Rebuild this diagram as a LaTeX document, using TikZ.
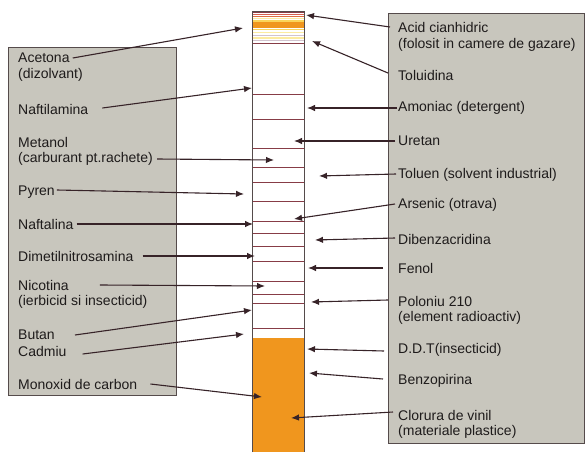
\documentclass[tikz,border=0pt]{standalone}
\usepackage{fontspec}
\setmainfont{Liberation Sans}
\usetikzlibrary{arrows.meta}
\definecolor{boxgray}{RGB}{200,198,189}
\definecolor{boxline}{RGB}{85,75,75}
\definecolor{arrowc}{RGB}{55,35,40}
\definecolor{stripe}{RGB}{135,60,70}
\definecolor{tobacco}{RGB}{240,150,30}
\definecolor{yel}{RGB}{250,212,90}
\definecolor{lyel}{RGB}{252,235,160}
\definecolor{lpur}{RGB}{210,195,205}
\definecolor{redl}{RGB}{215,95,80}
\definecolor{txt}{RGB}{30,27,27}
\begin{document}
\begin{tikzpicture}[x=1pt,y=-1pt,
  lbl/.style={anchor=west, inner sep=0pt, font=\fontsize{14}{16}\selectfont, text=txt},
  arr/.style={draw=arrowc, line width=1.1pt, -{Latex[length=8pt,width=6.5pt]}},
  panel/.style={draw=boxline, line width=0.9pt, fill=boxgray},
  seg/.style={draw=stripe, line width=1pt},
  thin/.style={line width=1.2pt}]
\useasboundingbox (0,0) rectangle (588,452);
\fill[white] (0,0) rectangle (588,452);

% panels
\draw[panel] (8,47) rectangle (176,395);
\draw[panel] (388,13) rectangle (584,443);

% column (cigarette)
\fill[tobacco] (252,338) rectangle (304,452);
\fill[stripe] (252,11) rectangle (304,13);
\draw[redl,line width=0.7pt] (252,14.5) -- (304,14.5);
\draw[redl!70!tobacco,line width=0.8pt] (252,16.5) -- (304,16.5);
\draw[lyel,thin] (252,18.5) -- (304,18.5);
\fill[yel] (252,20) rectangle (304,22.5);
\fill[tobacco] (252,22.5) rectangle (304,28);
\draw[yel,thin] (252,29.5) -- (304,29.5);
\draw[lyel,thin] (252,32.5) -- (304,32.5);
\draw[lpur,thin] (252,35.5) -- (304,35.5);
\draw[lyel,thin] (252,38) -- (304,38);
\draw[lpur,thin] (252,40.5) -- (304,40.5);
\foreach \yy in {44,94,119,148,167,182,201,221,233,246,261,281,294,303,328}
  \draw[seg] (252,\yy) -- (304,\yy);
\draw[boxline,line width=0.9pt] (252,452) -- (252,11) -- (304,11) -- (304,452);

% left labels
\node[lbl] (acetona) at (18,58) {Acetona};
\node[lbl] (acetona2) at (18,75) {(dizolvant)};
\node[lbl] (naftil) at (18,109) {Naftilamina};
\node[lbl] (metanol) at (18,142) {Metanol};
\node[lbl] (metanol2) at (18,159) {(carburant pt.rachete)};
\node[lbl] (pyren) at (18,192) {Pyren};
\node[lbl] (naftalina) at (18,224) {Naftalina};
\node[lbl] (dimetil) at (18,256) {Dimetilnitrosamina};
\node[lbl] (nicotina) at (18,285) {Nicotina};
\node[lbl] (nicotina2) at (18,302) {(ierbicid si insecticid)};
\node[lbl] (butan) at (18,335) {Butan};
\node[lbl] (cadmiu) at (18,351) {Cadmiu};
\node[lbl] (monoxid) at (18,384) {Monoxid de carbon};

% right labels
\node[lbl] (acid) at (398,27) {Acid cianhidric};
\node[lbl] (acid2) at (398,45) {(folosit in camere de gazare)};
\node[lbl] (toluidina) at (398,75) {Toluidina};
\node[lbl] (amoniac) at (398,108) {Amoniac (detergent)};
\node[lbl] (uretan) at (398,141) {Uretan};
\node[lbl] (toluen) at (398,175) {Toluen (solvent industrial)};
\node[lbl] (arsenic) at (398,205) {Arsenic (otrava)};
\node[lbl] (dibenz) at (398,239) {Dibenzacridina};
\node[lbl] (fenol) at (398,268) {Fenol};
\node[lbl] (poloniu) at (398,301) {Poloniu 210};
\node[lbl] (poloniu2) at (398,318) {(element radioactiv)};
\node[lbl] (ddt) at (398,350) {D.D.T(insecticid)};
\node[lbl] (benzo) at (398,381) {Benzopirina};
\node[lbl] (clorura) at (398,415) {Clorura de vinil};
\node[lbl] (clorura2) at (398,432) {(materiale plastice)};

% arrow tips on the column
\coordinate (tAcetona) at (243,28);
\coordinate (tNaftil) at (252,88);
\coordinate (tMetanol) at (274,160);
\coordinate (tPyren) at (244,194);
\coordinate (tNaftalina) at (253,224);
\coordinate (tDimetil) at (255,256);
\coordinate (tNicotina) at (265,286);
\coordinate (tButan) at (252,310);
\coordinate (tCadmiu) at (244,334);
\coordinate (tMonoxid) at (262,397);
\coordinate (tAcid) at (306,15);
\coordinate (tToluidina) at (312,41);
\coordinate (tAmoniac) at (307,108);
\coordinate (tUretan) at (294,141);
\coordinate (tToluen) at (319,176);
\coordinate (tArsenic) at (294,219);
\coordinate (tDibenz) at (315,240);
\coordinate (tFenol) at (308,268);
\coordinate (tPoloniu) at (311,302);
\coordinate (tDdt) at (307,349);
\coordinate (tBenzo) at (309,373);
\coordinate (tClorura) at (291,418);

% left arrows
\draw[arr] ([xshift=3pt]acetona.east) -- (tAcetona);
\draw[arr] ([xshift=14pt,yshift=1pt]naftil.east) -- (tNaftil);
\draw[arr] ([xshift=4pt]metanol2.east) -- (tMetanol);
\draw[arr] ([xshift=2pt,yshift=2pt]pyren.east) -- (tPyren);
\draw[arr] ([xshift=3pt]naftalina.east) -- (tNaftalina);
\draw[arr] ([xshift=9pt]dimetil.east) -- (tDimetil);
\draw[arr] ([xshift=31pt]nicotina.east) -- (tNicotina);
\draw[arr] ([xshift=20pt]butan.east) -- (tButan);
\draw[arr] ([xshift=16pt,yshift=-3pt]cadmiu.east) -- (tCadmiu);
\draw[arr] ([xshift=13pt]monoxid.east) -- (tMonoxid);

% right arrows
\draw[arr] ([xshift=-8pt]acid.west) -- (tAcid);
\draw[arr] ([xshift=-10pt,yshift=2pt]toluidina.west) -- (tToluidina);
\draw[arr] ([xshift=-1pt]amoniac.west) -- (tAmoniac);
\draw[arr] ([xshift=-3pt]uretan.west) -- (tUretan);
\draw[arr] ([xshift=-2pt,yshift=1pt]toluen.west) -- (tToluen);
\draw[arr] ([xshift=-3pt,yshift=1pt]arsenic.west) -- (tArsenic);
\draw[arr] ([xshift=-3pt,yshift=1pt]dibenz.west) -- (tDibenz);
\draw[arr] ([xshift=-15pt]fenol.west) -- (tFenol);
\draw[arr] ([xshift=-10pt,yshift=1pt]poloniu.west) -- (tPoloniu);
\draw[arr] ([xshift=-14pt,yshift=-1pt]ddt.west) -- (tDdt);
\draw[arr] ([xshift=-15pt,yshift=2pt]benzo.west) -- (tBenzo);
\draw[arr] ([xshift=-5pt,yshift=3pt]clorura.west) -- (tClorura);
\end{tikzpicture}
\end{document}
